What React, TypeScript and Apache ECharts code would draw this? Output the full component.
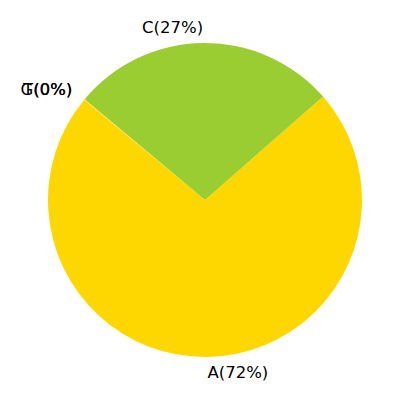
import React, { useEffect, useRef } from 'react';
import * as echarts from 'echarts';

// base composition (percent of total)
const bases = ['A', 'C', 'G', 'T'];
const shares = [72.45, 27.45, 0.05, 0.05];
const colors = ['#FFD700', '#9ACD32', '#FFD700', '#FFD700'];

const App: React.FC = () => {
  const chartRef = useRef<HTMLDivElement>(null);

  useEffect(() => {
    if (!chartRef.current) return;
    const chart = echarts.init(chartRef.current, null, { renderer: 'svg' });

    const radius = 157;

    chart.setOption({
      animation: false,
      backgroundColor: '#ffffff',
      series: [
        {
          type: 'pie',
          center: [205, 200],
          radius: [0, radius],
          startAngle: 140.4,
          clockwise: false,
          avoidLabelOverlap: false,
          minShowLabelAngle: 0,
          labelLayout: { hideOverlap: false },
          silent: true,
          data: bases.map((name, i) => ({
            name,
            value: shares[i],
            itemStyle: { color: colors[i] }
          })),
          label: {
            show: true,
            position: 'outside',
            distanceToLabelLine: 0,
            fontFamily: 'DejaVu Sans',
            fontSize: 16.5,
            color: '#000000',
            formatter: (p: any) => `${p.name}(${Math.round(p.percent)}%)`
          },
          labelLine: {
            show: false,
            length: radius * 0.1,
            length2: 0
          }
        }
      ]
    });

    return () => {
      chart.dispose();
    };
  }, []);

  return (
    <div
      ref={chartRef}
      style={{ position: 'fixed', left: 0, top: 0, width: '400px', height: '400px' }}
    />
  );
};

export default App;
